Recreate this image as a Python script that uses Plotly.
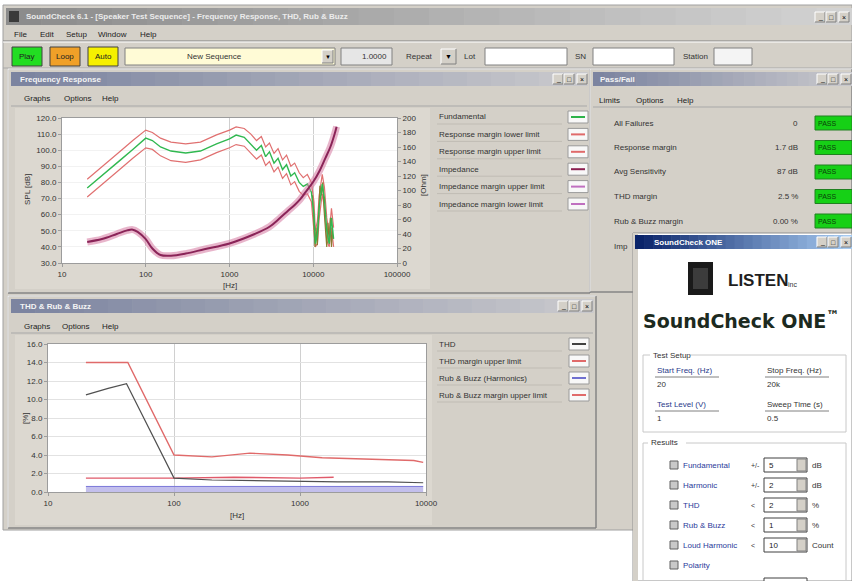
import plotly.graph_objects as go

W, H = 852, 581

# ---------------- data ----------------
# Top chart: frequency response (left axis, dB) + impedance (right axis)
resp_freq = [20, 30, 50, 70, 90, 100, 120, 150, 200, 300, 450, 700, 1000, 1200, 1500,
             1800, 2100, 2400, 2700, 3000, 3400, 3800, 4300, 4800, 5400, 6000, 6800,
             7600, 8500, 9500, 10200, 10600, 11200, 11800, 12800, 13600, 14500, 15500,
             16500, 17500]
resp_fundamental = [76.5, 84, 94, 100.5, 105.5, 107.5, 106, 102, 99.5, 98.3, 99.5, 104, 107, 109.4, 108,
                    104, 100, 103, 96, 99, 92, 95, 88, 91, 84, 86, 80,
                    77.5, 79, 74, 60, 42, 48, 65, 79, 70, 50, 42, 58, 45]
resp_upper = [82, 89.5, 99.5, 106, 111, 112.5, 111, 107.5, 105, 104, 105, 109.5, 112.5, 114.5, 113.5,
              110, 106, 108.5, 102, 104.5, 98, 101, 94, 97, 90, 92, 86,
              83, 85, 80, 68, 50, 56, 72, 85, 77, 58, 48, 64, 52]
resp_lower = [71, 78.5, 88.5, 95, 100, 101.5, 100.5, 96.5, 93.5, 92.5, 94, 98.5, 101.5, 103.5, 102.5,
              98.5, 94.5, 97, 90.5, 93, 86.5, 89.5, 82.5, 85.5, 78.5, 80.5, 74.5,
              72, 73, 68, 52, 40, 42, 58, 73, 64, 44, 40, 52, 40]
hf_freq = [9800, 10200, 10500, 10800, 11200, 11600, 12000, 12500, 13000, 13500, 14000,
           14500, 15000, 15500, 16000, 16500, 17000]
hf_level = [72, 55, 40, 52, 41, 60, 78, 72, 80, 62, 48, 40, 55, 42, 58, 40, 50]
imp_freq = [20, 30, 45, 60, 70, 80, 100, 120, 150, 200, 300, 500, 1000, 2000, 3000,
            4000, 5000, 6000, 7000, 8000, 10000, 12000, 14000, 16000, 18000, 19000]
imp_ohm = [29, 33, 40, 45, 46, 43, 33, 20, 11, 10, 13, 19, 27, 40, 50,
           62, 72, 80, 88, 97, 112, 128, 145, 160, 178, 188]
top_x_ticks = [10, 100, 1000, 10000, 100000]
top_x_labels = ["10", "100", "1000", "10000", "100000"]

# Bottom chart: THD and Rub & Buzz (%)
thd_lim_freq = [20, 43, 100, 200, 400, 800, 1500, 3000, 6000, 8000, 9500]
thd_lim = [14.0, 14.0, 4.0, 3.8, 4.2, 4.0, 3.7, 3.6, 3.5, 3.4, 3.2]
thd_freq = [20, 25, 30, 42, 100, 200, 500, 1000, 2000, 5000, 9500]
thd_val = [10.5, 10.9, 11.2, 11.7, 1.5, 1.3, 1.2, 1.2, 1.1, 1.1, 1.0]
rb_lim_freq = [20, 100, 300, 1000, 1850]
rb_lim = [1.5, 1.5, 1.6, 1.5, 1.6]
rb_freq = [20, 100, 1000, 9500]
rb_val = [0.6, 0.6, 0.55, 0.6]
bot_x_ticks = [10, 100, 1000, 10000]
bot_x_labels = ["10", "100", "1000", "10000"]

# Pass/Fail window
pf_names = ["All Failures", "Response margin", "Avg Sensitivity", "THD margin", "Rub & Buzz margin"]
pf_values = ["0", "1.7 dB", "87 dB", "2.5 %", "0.00 %"]

# ---------------- helpers ----------------
def X(p): return p / W
def Y(p): return 1 - p / H

shapes, annotations = [], []
FONT = "Liberation Sans, Arial, sans-serif"

def rect(x0, y0, x1, y1, fill, line=None, lw=1):
    shapes.append(dict(type="rect", xref="paper", yref="paper", x0=X(x0), x1=X(x1), y0=Y(y1), y1=Y(y0),
                       fillcolor=fill, line=dict(color=line or "rgba(0,0,0,0)", width=lw if line else 0),
                       layer="below"))

def seg(x0, y0, x1, y1, color, w=1):
    shapes.append(dict(type="line", xref="paper", yref="paper", x0=X(x0), x1=X(x1), y0=Y(y0), y1=Y(y1),
                       line=dict(color=color, width=w), layer="below"))

def bevel(x0, y0, x1, y1, raised=True):
    a, b = ("#ffffff", "#808080") if raised else ("#808080", "#ffffff")
    seg(x0, y0, x1, y0, a); seg(x0, y0, x0, y1, a)
    seg(x0, y1, x1, y1, b); seg(x1, y0, x1, y1, b)

def h2rgb(h):
    h = h.lstrip("#"); return tuple(int(h[i:i + 2], 16) for i in (0, 2, 4))

def grad(x0, y0, x1, y1, c0, c1, n=24):
    a, b = h2rgb(c0), h2rgb(c1)
    step = (x1 - x0) / n
    for i in range(n):
        t = i / (n - 1)
        c = "rgb(%d,%d,%d)" % tuple(round(a[k] + (b[k] - a[k]) * t) for k in range(3))
        rect(x0 + i * step, y0, x0 + (i + 1) * step + 0.6, y1, c)

def txt(x, y, s, size=9, color="#333333", xa="left", bold=False, family=FONT, angle=0):
    if bold:
        s = "<b>" + s + "</b>"
    annotations.append(dict(xref="paper", yref="paper", x=X(x), y=Y(y), text=s, showarrow=False,
                            xanchor=xa, yanchor="middle", textangle=angle,
                            font=dict(size=size, color=color, family=family)))

def winbuttons(x, y):
    for i, g in enumerate(["_", "□", "×"]):
        bx = x + i * 11 + (2 if i == 2 else 0)
        rect(bx, y, bx + 10, y + 10, "#d4d0c8")
        bevel(bx, y, bx + 10, y + 10)
        txt(bx + 5, y + 5, g, size=7, color="#000000", xa="center")

GRAY = "#d4d0c8"

# ---------------- main application window ----------------
rect(3, 5, 852, 530, GRAY, "#a0a0a0")
grad(6, 8, 852, 25, "#8c8c8c", "#d2d2d2")
rect(9, 11, 19, 22, "#3a3a3a")
txt(24, 16.5, "SoundCheck 6.1 - [Speaker Test Sequence] - Frequency Response, THD, Rub & Buzz",
    size=8, color="#ececec", bold=True)
winbuttons(815, 12)

for x, s in [(12, "File"), (38, "Edit"), (64, "Setup"), (96, "Window"), (138, "Help")]:
    txt(x, 34, s, size=8, color="#222222")
seg(3, 41, 852, 41, "#808080"); seg(3, 42, 852, 42, "#ffffff")

# toolbar
for x0, col, lab in [(12, "#22dd22", "Play"), (50, "#f0a028", "Loop"), (88, "#f6f000", "Auto")]:
    rect(x0, 47, x0 + 30, 66, col, "#404040", 1)
    txt(x0 + 15, 56.5, lab, size=8, color="#202020", xa="center")
rect(125, 48, 335, 65, "#fffbd6", "#808080")
txt(215, 56.5, "New Sequence", size=8, color="#333333", xa="center")
rect(322, 50, 333, 63, GRAY); bevel(322, 50, 333, 63)
txt(327.5, 56.5, "▼", size=6, color="#000000", xa="center")
rect(341, 48, 392, 65, "#e6e6e6", "#808080")
txt(389, 56.5, "1.0000", size=8, color="#333333", xa="right")
txt(404, 56.5, "Repeat", size=8, color="#333333")
rect(441, 49, 456, 64, GRAY); bevel(441, 49, 456, 64)
txt(448.5, 56.5, "▼", size=7, color="#000000", xa="center")
txt(462, 56.5, "Lot", size=8, color="#333333")
rect(485, 48, 567, 65, "#ffffff", "#808080")
txt(573, 56.5, "SN", size=8, color="#333333")
rect(593, 48, 674, 65, "#ffffff", "#808080")
txt(681, 56.5, "Station", size=8, color="#333333")
rect(714, 48, 752, 65, "#f4f4f4", "#808080")
seg(3, 68, 852, 68, "#a8a8a8")

# ---------------- Frequency Response window ----------------
rect(8, 69, 590, 293, GRAY, "#909090")
bevel(8, 69, 590, 293)
grad(11, 72, 587, 86, "#7c84a0", "#c8c8cc")
txt(18, 79, "Frequency Response", size=8, color="#f4f4f4", bold=True)
winbuttons(553, 74)
for x, s in [(22, "Graphs"), (62, "Options"), (100, "Help")]:
    txt(x, 98, s, size=8, color="#222222")
seg(11, 106, 587, 106, "#a8a8a8")
rect(15, 108, 430, 289, "#dcd8d0")
rect(62, 118, 397, 263, "#ffffff")
legend_top = ["Fundamental", "Response margin lower limit", "Response margin upper limit",
              "Impedance", "Impedance margin upper limit", "Impedance margin lower limit"]
legend_top_col = ["#2db34a", "#e06a6a", "#e06a6a", "#8b2050", "#c070c0", "#c070c0"]
for i, (s, c) in enumerate(zip(legend_top, legend_top_col)):
    yy = 117 + i * 17.4
    txt(437, yy, s, size=8, color="#333333")
    seg(437, yy + 7, 562, yy + 7, "#c0bcb4")
    rect(568, yy - 6, 588, yy + 6, "#f8f8f8", "#9a9a9a")
    seg(571, yy, 585, yy, c, 2)

# ---------------- Pass/Fail window ----------------
rect(590, 69, 852, 292, GRAY, "#909090")
bevel(590, 69, 852, 292)
grad(593, 72, 852, 86, "#7c84a0", "#c8c8cc")
txt(598, 79, "Pass/Fail", size=8, color="#f4f4f4", bold=True)
winbuttons(817, 74)
for x, s in [(597, "Limits"), (634, "Options"), (675, "Help")]:
    txt(x, 100, s, size=8, color="#222222")
seg(593, 107, 852, 107, "#a8a8a8")
for i, (n, v) in enumerate(zip(pf_names, pf_values)):
    yy = 123 + i * 24.5
    txt(612, yy, n, size=8, color="#333333")
    txt(800, yy, v, size=8, color="#333333", xa="right")
    rect(815, yy - 7, 852, yy + 7, "#16d016", "#208020")
    txt(816, yy, "PASS", size=7, color="#0a400a")
txt(612, 246, "Imp", size=8, color="#333333")

# ---------------- THD / Rub & Buzz window ----------------
rect(8, 296, 596, 528, GRAY, "#909090")
bevel(8, 296, 596, 528)
grad(11, 299, 593, 313, "#7c84a0", "#c8c8cc")
txt(18, 306, "THD & Rub & Buzz", size=8, color="#f4f4f4", bold=True)
winbuttons(558, 301)
for x, s in [(22, "Graphs"), (60, "Options"), (100, "Help")]:
    txt(x, 326, s, size=8, color="#222222")
seg(11, 333, 593, 333, "#a8a8a8")
rect(15, 335, 432, 525, "#dcd8d0")
rect(48, 344, 426, 492, "#ffffff")
legend_bot = ["THD", "THD margin upper limit", "Rub & Buzz (Harmonics)", "Rub & Buzz margin upper limit"]
legend_bot_col = ["#404040", "#e06a6a", "#7070d0", "#e06a6a"]
for i, (s, c) in enumerate(zip(legend_bot, legend_bot_col)):
    yy = 344 + i * 17
    txt(437, yy, s, size=8, color="#333333")
    seg(437, yy + 7, 562, yy + 7, "#c0bcb4")
    rect(569, yy - 6, 589, yy + 6, "#f8f8f8", "#9a9a9a")
    seg(572, yy, 586, yy, c, 2)

# ---------------- SoundCheck ONE dialog ----------------
rect(633, 233, 852, 581, "#ffffff", "#909090")
rect(633, 233, 638, 581, GRAY)
grad(635, 235, 852, 249, "#0a246a", "#a6caf0")
txt(652, 242, "SoundCheck ONE", size=8, color="#ffffff", bold=True)
winbuttons(817, 237)
rect(688, 262, 713, 295, "#1a1a1a")
rect(693, 268, 708, 289, "#3c3c3c")
txt(726, 280, "LISTEN", size=17, color="#1e1e1e", bold=True, family="Liberation Sans Narrow, Arial Narrow, sans-serif")
txt(786, 284, "inc", size=7, color="#333333")
txt(641, 320, "SoundCheck ONE<sup>™</sup>", size=19, color="#1c2a20", bold=True,
    family="DejaVu Sans, Verdana, sans-serif")
# Test Setup group
rect(643, 355, 846, 432, "rgba(0,0,0,0)", "#c8c8c8")
rect(650, 350, 690, 360, "#ffffff")
txt(651, 355, "Test Setup", size=8, color="#333333")
for (x, y, lab, val) in [(655, 370, "Start Freq. (Hz)", "20"), (765, 370, "Stop Freq. (Hz)", "20k"),
                         (655, 404, "Test Level (V)", "1"), (765, 404, "Sweep Time (s)", "0.5")]:
    txt(x, y, lab, size=8, color="#2a3a8a" if x < 700 else "#333333")
    seg(x, y + 7, x + 64, y + 7, "#808080")
    txt(x, y + 14, val, size=8, color="#333333")
# Results group
rect(643, 443, 846, 590, "rgba(0,0,0,0)", "#c8c8c8")
rect(648, 438, 686, 448, "#ffffff")
txt(649, 443, "Results", size=8, color="#333333")
res_rows = [("Fundamental", "+/-", "5", "dB"), ("Harmonic", "+/-", "2", "dB"), ("THD", "<", "2", "%"),
            ("Rub & Buzz", "<", "1", "%"), ("Loud Harmonic", "<", "10", "Count"), ("Polarity", "", "", "")]
for i, (lab, op, val, unit) in enumerate(res_rows):
    yy = 465 + i * 20
    rect(670, yy - 4, 678, yy + 4, "#c8c8c8", "#606060")
    txt(681, yy, lab, size=8, color="#2a3a9a")
    if val:
        txt(749, yy, op, size=7, color="#333333")
        rect(764, yy - 7, 807, yy + 7, "#ffffff", "#404040")
        txt(767, yy, val, size=8, color="#222222")
        rect(797, yy - 6, 806, yy + 6, GRAY, "#808080")
        txt(810, yy, unit, size=8, color="#333333")
rect(764, 578, 807, 592, "#ffffff", "#404040")

# ---------------- traces ----------------
fig = go.Figure()
# top chart
fig.add_trace(go.Scatter(x=imp_freq, y=imp_ohm, yaxis="y2", xaxis="x", mode="lines",
                         line=dict(color="rgba(214,120,160,0.55)", width=7, shape="spline")))
fig.add_trace(go.Scatter(x=imp_freq, y=imp_ohm, yaxis="y2", xaxis="x", mode="lines",
                         line=dict(color="#8a2458", width=2, shape="spline")))
fig.add_trace(go.Scatter(x=resp_freq, y=resp_upper, xaxis="x", yaxis="y", mode="lines",
                         line=dict(color="#e07070", width=1.2)))
fig.add_trace(go.Scatter(x=resp_freq, y=resp_lower, xaxis="x", yaxis="y", mode="lines",
                         line=dict(color="#e07070", width=1.2)))
fig.add_trace(go.Scatter(x=hf_freq, y=hf_level, xaxis="x", yaxis="y", mode="lines",
                         line=dict(color="#8a7a30", width=1.2)))
fig.add_trace(go.Scatter(x=resp_freq, y=resp_fundamental, xaxis="x", yaxis="y", mode="lines",
                         line=dict(color="#30b850", width=1.4)))
# bottom chart
fig.add_trace(go.Scatter(x=rb_freq, y=rb_val, xaxis="x3", yaxis="y3", mode="lines", fill="tozeroy",
                         fillcolor="rgba(175,170,230,0.75)", line=dict(color="#7a78d8", width=1)))
fig.add_trace(go.Scatter(x=rb_lim_freq, y=rb_lim, xaxis="x3", yaxis="y3", mode="lines",
                         line=dict(color="#e05a6a", width=1.4)))
fig.add_trace(go.Scatter(x=thd_freq, y=thd_val, xaxis="x3", yaxis="y3", mode="lines",
                         line=dict(color="#505050", width=1.2)))
fig.add_trace(go.Scatter(x=thd_lim_freq, y=thd_lim, xaxis="x3", yaxis="y3", mode="lines",
                         line=dict(color="#e06a6a", width=1.4)))

# axis titles
txt(27, 190, "SPL [dB]", size=8, color="#333333", xa="center", angle=-90)
txt(230, 285, "[Hz]", size=8, color="#333333", xa="center")
txt(424, 185, "[Ohm]", size=8, color="#333333", xa="center", angle=-90)
txt(25, 418, "[%]", size=8, color="#333333", xa="center", angle=-90)
txt(237, 515, "[Hz]", size=8, color="#333333", xa="center")

tickfont = dict(size=8, color="#333333", family=FONT)
axcommon = dict(showline=True, mirror=True, linecolor="#9c9c9c", ticks="outside", ticklen=3,
                tickcolor="#9c9c9c", tickfont=tickfont, zeroline=False, automargin=False, fixedrange=True)

fig.update_layout(
    width=W, height=H, autosize=False, template="none",
    margin=dict(l=0, r=0, t=0, b=0),
    paper_bgcolor="#ffffff", plot_bgcolor="rgba(0,0,0,0)",
    showlegend=False, shapes=shapes, annotations=annotations,
    xaxis=dict(domain=[X(62), X(397)], anchor="y", type="log", range=[1, 5],
               tickvals=top_x_ticks, ticktext=top_x_labels, showgrid=True, gridcolor="#cfcfcf", **axcommon),
    yaxis=dict(domain=[Y(263), Y(118)], anchor="x", range=[30, 120], dtick=10, tickformat=".1f",
               showgrid=True, gridcolor="#f2f2f2", **axcommon),
    yaxis2=dict(overlaying="y", anchor="x", side="right", range=[0, 200], dtick=20,
                showgrid=False, showline=False, ticks="outside", ticklen=3, tickcolor="#9c9c9c",
                tickfont=tickfont, zeroline=False, automargin=False, fixedrange=True),
    xaxis3=dict(domain=[X(48), X(426)], anchor="y3", type="log", range=[1, 4],
                tickvals=bot_x_ticks, ticktext=bot_x_labels, showgrid=True, gridcolor="#d0d0d0", **axcommon),
    yaxis3=dict(domain=[Y(492), Y(344)], anchor="x3", range=[0, 16], dtick=2, tickformat=".1f",
                showgrid=True, gridcolor="#e2e2e2", **axcommon),
)

fig.write_html("out.html", config={"displayModeBar": False},
               post_script="document.body.style.margin='0px';document.body.style.overflow='hidden';")
